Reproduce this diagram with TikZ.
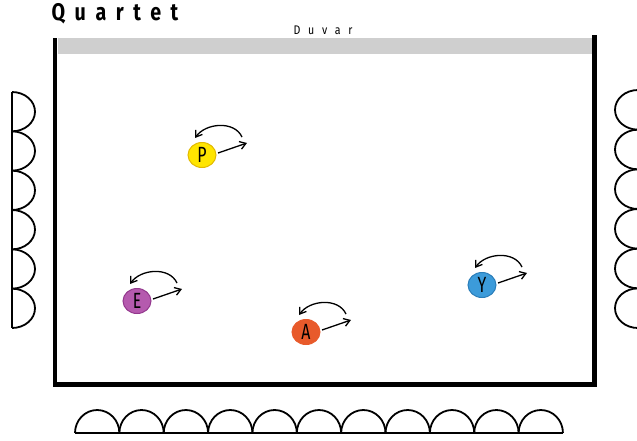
\documentclass[tikz,border=0pt]{standalone}
\usepackage{fontspec}
\setmainfont{Fira Sans}
\newfontfamily\titlefont[FakeStretch=0.82,LetterSpace=40]{Fira Sans}
\newfontfamily\wallfont[FakeStretch=0.85,LetterSpace=62]{Fira Sans}
\newfontfamily\letterfont[FakeStretch=0.72]{Fira Sans}
\usetikzlibrary{arrows.meta,shapes.geometric,calc}

\definecolor{pyellow}{HTML}{FFE500}
\definecolor{pyellowline}{HTML}{E2B900}
\definecolor{epurple}{HTML}{B55AAE}
\definecolor{epurpleline}{HTML}{93388D}
\definecolor{aorange}{HTML}{E85A2B}
\definecolor{ablue}{HTML}{3C9BDA}
\definecolor{abblueline}{HTML}{2A7DB9}

\begin{document}
\begin{tikzpicture}[x=1pt, y=-1pt,
  player/.style={ellipse, draw, line width=1, minimum width=28, minimum height=25,
    inner sep=0, font=\letterfont\fontsize{22}{22}\selectfont},
  move/.style={-{Straight Barb[length=6,width=8]}, line width=1.3},
  wall/.style={line width=4.6, line join=miter},
  seat/.style={line width=1.8, line join=round}]

\useasboundingbox (0,0) rectangle (637,440);

% room
\fill[black!19] (57.5,38) rectangle (592.5,54);
\draw[wall] (55,38) -- (55,384.5) -- (594.5,384.5) -- (594.5,35);

\node (title) [anchor=west, font=\titlefont\bfseries\fontsize{24}{24}\selectfont] at (48,14) {Quartet};
\node (duvar) [font=\wallfont\fontsize{12.5}{12.5}\selectfont] at (323,30) {Duvar};

% audience
\draw[seat] (12,92) -- (12,328);
\foreach \i in {0,...,5}
  \draw[seat] (12,92+39.33*\i) arc[start angle=-90, end angle=90, x radius=23, y radius=19.67];
\foreach \i in {0,...,5}
  \draw[seat] (638,90+39.67*\i) arc[start angle=-90, end angle=-270, x radius=23, y radius=19.83];
\draw[seat] (75,433) -- (563,433);
\foreach \i in {0,...,10}
  \draw[seat] (75+44.36*\i,433) arc[start angle=180, end angle=360, x radius=22.18, y radius=23];

% players
\node (P) [player, fill=pyellow, draw=pyellowline] at (202,155) {P};
\node (E) [player, fill=epurple, draw=epurpleline] at (137,301) {E};
\node (A) [player, fill=aorange, draw=aorange] at (306,332) {A};
\node (Y) [player, fill=ablue, draw=abblueline] at (482,285) {Y};

\foreach \p in {P,E,A,Y} {
  \draw[move] ($(\p)+(16,-2)$) -- ($(\p)+(45,-12)$);
  \draw[move] ($(\p)+(40,-18)$) to[out=115, in=55] ($(\p)+(-7,-17)$);
}

\end{tikzpicture}
\end{document}
